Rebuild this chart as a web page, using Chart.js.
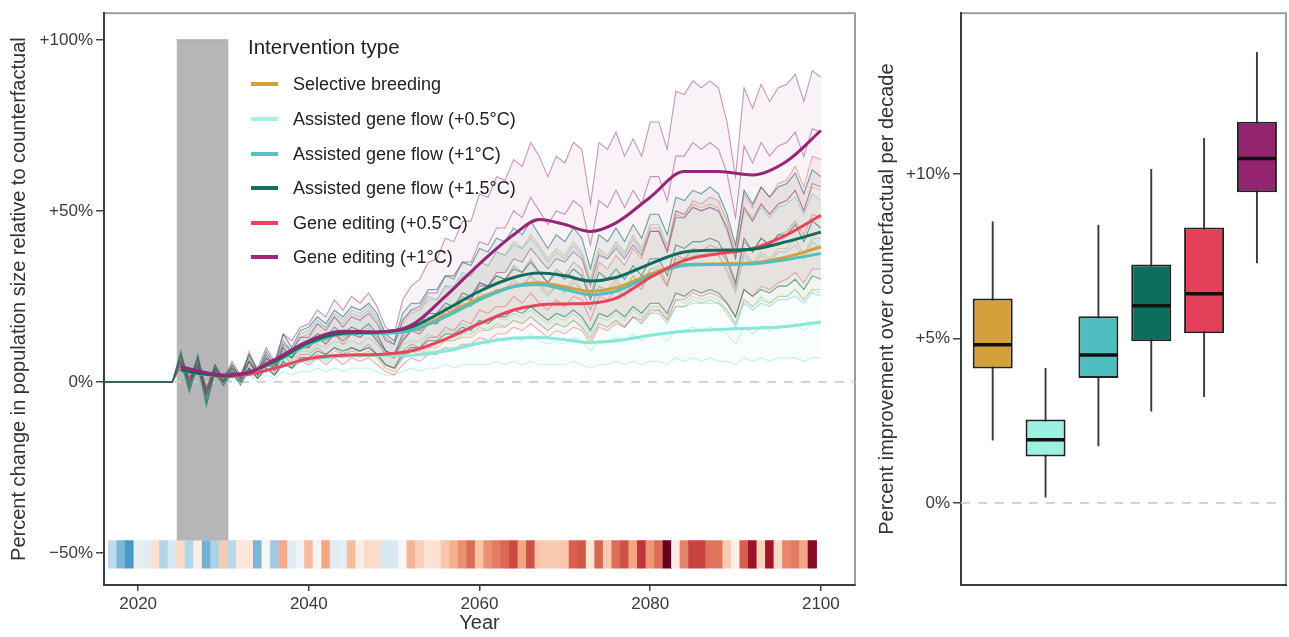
<!DOCTYPE html>
<html>
<head>
<meta charset="utf-8">
<title>Intervention outcomes</title>
<script src="https://cdn.jsdelivr.net/npm/chart.js@4.4.1/dist/chart.umd.min.js"></script>
<style>
  body { margin: 0; background: #fff; font-family: "Liberation Sans", Arial, sans-serif; }
  #wrap { position: relative; width: 1289px; height: 637px; overflow: hidden; }
  #left { position: absolute; left: 0; top: 0; }
  #right { position: absolute; left: 860px; top: 0; }
  #legend { position: absolute; left: 0; top: 0; color: #222; }
  .leg-title { position: absolute; left: 248px; top: 35px; font-size: 20.5px; white-space: nowrap; }
  .leg-item { position: absolute; left: 251px; height: 20px; line-height: 20px; font-size: 18px; white-space: nowrap; }
  .leg-key { position: absolute; left: 0; top: 8px; width: 27px; height: 4px; }
  .leg-text { position: absolute; left: 42px; top: 0; }
</style>
</head>
<body>
<div id="wrap">
  <canvas id="left" width="870" height="637"></canvas>
  <canvas id="right" width="429" height="637"></canvas>
  <div id="legend"></div>
</div>
<script>
// --- DADOS ---
const seriesNames = [
  'Selective breeding',
  'Assisted gene flow (+0.5°C)',
  'Assisted gene flow (+1°C)',
  'Assisted gene flow (+1.5°C)',
  'Gene editing (+0.5°C)',
  'Gene editing (+1°C)'
];

// smooth mean trends (knots)
const knotYears = [2025, 2027, 2030, 2033, 2036, 2040, 2044, 2048, 2052, 2056, 2060,
                   2064, 2067, 2070, 2073, 2076, 2080, 2084, 2088, 2092, 2096, 2100];
const meanSB    = [3.5, 2.5, 1.8, 2.8, 5.8, 11, 14, 14.3, 15.2, 19.5, 24.5, 28, 29, 27.8, 26.5, 27.5, 31.5, 34.3, 34.5, 34.8, 36.5, 39.5];
const meanAGF05 = [3.5, 2.5, 1.5, 2.2, 4, 6.5, 7.5, 7.7, 7.8, 9, 11.3, 12.8, 13, 12.3, 11.5, 12, 13.6, 14.8, 15.3, 15.7, 16.2, 17.5];
const meanAGF1  = [3.5, 2.5, 1.8, 2.8, 5.8, 11, 14, 14.2, 15, 19, 24, 27.8, 28.5, 27, 25.5, 26.5, 31, 34, 34.3, 34.5, 35.8, 37.5];
const meanAGF15 = [3.5, 2.5, 1.8, 2.8, 6, 11.5, 14.2, 14.5, 16, 21, 26.5, 30.5, 31.8, 31, 29.5, 30.5, 34.5, 38, 38.5, 38.8, 41, 43.8];
const meanGE05  = [4, 3, 1.5, 2.2, 4, 6.8, 7.8, 8, 9, 12.5, 17, 21, 22.5, 22.8, 23, 24.5, 30.5, 35.5, 37.5, 39, 43, 48.7];
const meanGE1   = [4.5, 3.2, 2.0, 2.8, 6.5, 12, 14.8, 14.6, 16.5, 25, 34.5, 43, 47.5, 46, 44, 46.5, 54, 61.5, 61.5, 60.5, 64.5, 73.5];

// individual runs (yearly): 2016, 2024, 2025 ... 2100
const runYears = [2016, 2024, 2025, 2026, 2027, 2028, 2029,
  2030, 2031, 2032, 2033, 2034, 2035, 2036, 2037, 2038, 2039,
  2040, 2041, 2042, 2043, 2044, 2045, 2046, 2047, 2048, 2049,
  2050, 2051, 2052, 2053, 2054, 2055, 2056, 2057, 2058, 2059,
  2060, 2061, 2062, 2063, 2064, 2065, 2066, 2067, 2068, 2069,
  2070, 2071, 2072, 2073, 2074, 2075, 2076, 2077, 2078, 2079,
  2080, 2081, 2082, 2083, 2084, 2085, 2086, 2087, 2088, 2089,
  2090, 2091, 2092, 2093, 2094, 2095, 2096, 2097, 2098, 2099,
  2100];

const runSBHigh = [0, 0, 7, 1, 6, -2, 4,
  1, 5, 2, 7, 3, 8, 5, 12, 9, 13,
  14, 17, 16, 19, 17, 20, 19, 21, 18, 13,
  11, 17, 20, 21, 24, 24, 28, 27, 31, 31,
  35, 34, 38, 37, 41, 39, 43, 40, 36, 39,
  37, 41, 38, 30, 39, 37, 41, 38, 43, 39,
  46, 46, 40, 50, 49, 52, 51, 52, 51, 45,
  37, 51, 48, 52, 49, 52, 53, 56, 50, 57,
  56];
const runSBMid = [0, 0, 6, 0, 5, -3, 3,
  1, 4, 1, 5, 2, 6, 4, 9, 7, 10,
  10, 13, 12, 14, 12, 15, 14, 15, 13, 9,
  7, 12, 15, 15, 17, 17, 20, 20, 22, 22,
  25, 25, 27, 27, 30, 28, 31, 29, 26, 28,
  27, 30, 27, 21, 28, 27, 30, 27, 31, 28,
  33, 34, 29, 36, 36, 38, 37, 38, 37, 33,
  27, 38, 35, 38, 36, 39, 39, 42, 37, 42,
  42];
const runSBLow = [0, 0, 4, -1, 3, -4, 2,
  0, 2, 0, 3, 1, 4, 2, 5, 4, 6,
  6, 8, 7, 8, 7, 9, 8, 9, 7, 4,
  3, 7, 9, 8, 10, 10, 12, 12, 13, 13,
  15, 15, 16, 16, 18, 17, 19, 17, 15, 17,
  16, 18, 16, 12, 17, 16, 18, 16, 19, 17,
  20, 21, 18, 22, 22, 24, 23, 24, 23, 21,
  17, 24, 22, 24, 23, 25, 25, 27, 24, 27,
  27];
const runAGF05High = [0, 0, 6, 0, 5, -3, 3,
  0, 4, 1, 6, 2, 6, 3, 8, 6, 9,
  9, 11, 10, 12, 11, 12, 11, 13, 11, 8,
  7, 11, 12, 12, 14, 13, 15, 15, 17, 16,
  18, 17, 19, 18, 20, 19, 21, 19, 17, 19,
  18, 20, 18, 14, 19, 18, 20, 18, 21, 19,
  22, 22, 19, 24, 23, 25, 24, 25, 24, 21,
  17, 24, 22, 25, 23, 25, 25, 27, 24, 27,
  26];
const runAGF05Mid = [0, 0, 5, -1, 3, -3, 2,
  0, 3, 0, 4, 1, 4, 2, 6, 4, 6,
  6, 8, 6, 8, 7, 8, 7, 9, 7, 5,
  4, 7, 8, 8, 9, 9, 10, 10, 11, 11,
  12, 11, 13, 12, 13, 12, 14, 12, 11, 12,
  11, 13, 12, 9, 12, 12, 13, 12, 14, 12,
  14, 14, 12, 15, 15, 16, 15, 16, 15, 14,
  11, 16, 14, 16, 15, 16, 16, 17, 15, 17,
  17];
const runAGF05Low = [0, 0, 3, -1, 2, -3, 1,
  -1, 1, 0, 2, 0, 2, 1, 3, 2, 3,
  3, 4, 3, 4, 3, 4, 4, 4, 3, 2,
  2, 3, 4, 3, 4, 4, 5, 4, 5, 5,
  5, 5, 6, 5, 6, 5, 6, 5, 5, 5,
  5, 6, 5, 4, 5, 5, 6, 5, 6, 5,
  6, 6, 5, 7, 6, 7, 6, 7, 6, 6,
  5, 7, 6, 7, 6, 7, 7, 7, 6, 7,
  7];
const runAGF1High = [0, 0, 8, 0, 7, -3, 4,
  1, 5, 1, 7, 3, 8, 5, 12, 9, 14,
  15, 18, 16, 20, 18, 21, 20, 22, 19, 13,
  11, 18, 21, 21, 25, 24, 28, 28, 32, 31,
  35, 34, 38, 37, 40, 39, 42, 39, 35, 38,
  36, 40, 37, 29, 38, 36, 40, 37, 42, 38,
  45, 45, 39, 49, 48, 51, 50, 51, 50, 44,
  36, 50, 47, 51, 48, 51, 52, 54, 49, 55,
  53];
const runAGF1Mid = [0, 0, 7, -1, 6, -4, 3,
  1, 4, 1, 6, 2, 6, 4, 9, 7, 10,
  11, 13, 12, 14, 13, 15, 14, 16, 13, 9,
  8, 12, 15, 15, 18, 17, 20, 20, 23, 22,
  26, 25, 27, 27, 29, 28, 31, 28, 25, 28,
  26, 29, 27, 21, 28, 26, 29, 27, 31, 28,
  33, 33, 28, 36, 35, 37, 37, 37, 37, 32,
  26, 37, 34, 37, 35, 38, 38, 40, 36, 41,
  39];
const runAGF1Low = [0, 0, 5, -2, 4, -5, 2,
  0, 3, 0, 4, 1, 4, 2, 6, 4, 7,
  7, 8, 7, 9, 8, 9, 9, 10, 8, 5,
  4, 7, 9, 9, 11, 11, 12, 12, 14, 14,
  16, 15, 17, 16, 18, 17, 19, 17, 15, 17,
  16, 18, 16, 13, 17, 16, 18, 16, 19, 17,
  20, 20, 17, 22, 22, 23, 23, 23, 23, 20,
  16, 23, 21, 23, 22, 24, 24, 25, 23, 26,
  25];
const runAGF15High = [0, 0, 9, -1, 8, -4, 5,
  0, 5, 1, 8, 3, 9, 5, 14, 10, 15,
  16, 19, 17, 21, 19, 22, 21, 23, 20, 14,
  12, 20, 23, 23, 27, 27, 31, 31, 35, 34,
  39, 38, 42, 41, 45, 43, 47, 43, 39, 43,
  41, 45, 42, 33, 43, 41, 45, 41, 46, 42,
  49, 49, 43, 54, 53, 56, 55, 57, 55, 49,
  40, 56, 52, 57, 54, 57, 58, 61, 55, 62,
  60];
const runAGF15Mid = [0, 0, 8, -2, 7, -6, 4,
  0, 4, 0, 6, 2, 7, 4, 10, 7, 11,
  12, 14, 13, 16, 14, 16, 15, 17, 14, 9,
  8, 14, 17, 17, 20, 20, 23, 22, 26, 25,
  29, 28, 31, 30, 33, 32, 35, 32, 29, 32,
  30, 33, 31, 24, 32, 30, 33, 30, 34, 31,
  36, 36, 31, 40, 39, 41, 41, 42, 41, 36,
  29, 42, 38, 42, 40, 43, 43, 46, 41, 47,
  45];
const runAGF15Low = [0, 0, 6, -3, 5, -7, 3,
  -1, 3, -1, 4, 1, 4, 2, 6, 4, 7,
  7, 9, 8, 10, 9, 10, 9, 10, 8, 5,
  4, 8, 10, 10, 12, 12, 14, 14, 16, 15,
  18, 17, 19, 19, 21, 20, 22, 20, 18, 20,
  19, 21, 19, 15, 20, 19, 21, 19, 22, 20,
  23, 23, 20, 26, 25, 27, 26, 27, 26, 23,
  19, 27, 25, 27, 26, 28, 28, 30, 27, 31,
  30];
const runGE05High = [0, 0, 7, 1, 6, -3, 4,
  0, 5, 1, 9, 3, 8, 4, 10, 7, 11,
  10, 13, 11, 14, 11, 14, 13, 15, 12, 8,
  7, 13, 16, 15, 19, 18, 22, 21, 25, 24,
  29, 28, 31, 30, 34, 32, 36, 32, 29, 33,
  31, 35, 33, 25, 35, 33, 37, 34, 39, 36,
  44, 44, 38, 50, 49, 53, 52, 54, 53, 47,
  38, 55, 51, 57, 54, 58, 59, 63, 57, 66,
  65];
const runGE05Mid = [0, 0, 6, 0, 5, -3, 3,
  0, 3, 1, 6, 2, 6, 3, 8, 5, 8,
  8, 10, 8, 10, 8, 10, 9, 11, 8, 5,
  4, 9, 11, 10, 13, 13, 16, 15, 18, 17,
  21, 20, 22, 22, 25, 23, 26, 23, 21, 24,
  22, 25, 24, 18, 25, 24, 27, 25, 29, 27,
  32, 32, 28, 37, 36, 39, 38, 40, 39, 35,
  28, 41, 38, 42, 40, 43, 44, 47, 43, 49,
  48];
const runGE05Low = [0, 0, 4, 0, 3, -4, 2,
  -1, 2, 0, 4, 1, 4, 2, 5, 4, 6,
  5, 7, 5, 7, 5, 7, 6, 7, 5, 3,
  2, 5, 7, 6, 8, 8, 10, 9, 11, 11,
  13, 12, 14, 14, 16, 15, 17, 15, 13, 15,
  14, 16, 15, 11, 16, 15, 17, 16, 19, 18,
  21, 21, 18, 24, 24, 26, 25, 26, 25, 23,
  19, 27, 25, 28, 27, 29, 30, 32, 29, 33,
  33];
const runGE1High = [0, 0, 8, 1, 7, -2, 5,
  1, 6, 2, 8, 4, 10, 6, 14, 12, 16,
  17, 21, 19, 24, 21, 25, 23, 26, 22, 16,
  14, 24, 28, 30, 35, 36, 42, 41, 47, 47,
  55, 54, 60, 59, 65, 63, 70, 66, 60, 66,
  64, 70, 68, 52, 70, 68, 73, 66, 71, 66,
  76, 76, 68, 85, 84, 88, 86, 88, 86, 76,
  60, 86, 80, 87, 82, 86, 87, 90, 82, 91,
  89];
const runGE1Mid = [0, 0, 6, 1, 5, -2, 4,
  1, 4, 2, 6, 3, 7, 5, 11, 9, 13,
  13, 17, 15, 19, 16, 19, 18, 20, 17, 12,
  11, 18, 21, 22, 26, 26, 31, 30, 35, 35,
  41, 40, 45, 45, 50, 48, 54, 50, 46, 50,
  49, 53, 51, 40, 53, 51, 56, 51, 56, 52,
  60, 60, 53, 66, 66, 70, 68, 70, 68, 61,
  48, 69, 64, 70, 66, 69, 70, 73, 66, 74,
  73];
const runGE1Low = [0, 0, 5, 0, 4, -3, 3,
  0, 3, 1, 4, 2, 5, 4, 8, 7, 10,
  10, 13, 11, 14, 12, 14, 13, 15, 12, 9,
  8, 12, 15, 14, 17, 17, 21, 20, 24, 24,
  28, 28, 32, 32, 36, 35, 39, 36, 33, 36,
  35, 38, 36, 28, 37, 36, 39, 36, 40, 37,
  44, 44, 38, 48, 48, 51, 50, 51, 50, 45,
  36, 51, 47, 52, 49, 52, 53, 56, 50, 58,
  57];

// climate anomaly strip, one cell per year (2017-2099)
const stripYears = [2017, 2018, 2019,
  2020, 2021, 2022, 2023, 2024, 2025, 2026, 2027, 2028, 2029,
  2030, 2031, 2032, 2033, 2034, 2035, 2036, 2037, 2038, 2039,
  2040, 2041, 2042, 2043, 2044, 2045, 2046, 2047, 2048, 2049,
  2050, 2051, 2052, 2053, 2054, 2055, 2056, 2057, 2058, 2059,
  2060, 2061, 2062, 2063, 2064, 2065, 2066, 2067, 2068, 2069,
  2070, 2071, 2072, 2073, 2074, 2075, 2076, 2077, 2078, 2079,
  2080, 2081, 2082, 2083, 2084, 2085, 2086, 2087, 2088, 2089,
  2090, 2091, 2092, 2093, 2094, 2095, 2096, 2097, 2098, 2099];
const stripAnomaly = [-1.3, -2.3, -2.9,
  -0.5, -0.6, 0.8, -1.5, -0.8, 1.0, -1.5, 0.3, -2.4, -1.6,
  1.3, -1.4, 0.6, 0.6, -2.3, -0.1, -1.8, 1.9, -0.6, -0.2,
  1.6, 0.1, 2.0, -0.6, -0.5, 1.6, 0.3, 1.0, 0.9, -0.9,
  -0.8, 0.1, 1.7, 1.2, 0.7, 0.8, 1.4, 1.8, 2.3, 2.8,
  1.4, 2.3, 2.6, 2.9, 3.3, 2.0, 3.2, 1.4, 1.3, 1.3,
  1.4, 3.0, 3.1, 0.7, 2.9, 1.3, 2.8, 3.2, 2.0, 3.6,
  2.2, 2.8, 5.0, 0.4, 2.5, 3.4, 3.4, 2.7, 2.7, 1.3,
  0.3, 3.0, 4.3, 1.2, 4.2, 1.0, 2.4, 2.6, 2.0, 4.6];

const interventionYears = [2024.5, 2030.6];

// box plot (percent improvement per decade)
const boxMin    = [1.90, 0.16, 1.72, 2.78, 3.22, 7.29];
const boxQ1     = [4.09, 1.41, 3.80, 4.92, 5.16, 9.45];
const boxMedian = [4.81, 1.92, 4.50, 6.00, 6.36, 10.48];
const boxQ3     = [6.22, 2.54, 5.68, 7.25, 8.38, 11.60];
const boxMax    = [8.56, 4.10, 8.46, 10.16, 11.10, 13.72];

// eixos
const leftYTicks = [-50, 0, 50, 100];
const leftYLabels = ['\u221250%', '0%', '+50%', '+100%'];
const leftXTicks = [2020, 2040, 2060, 2080, 2100];
const rightYTicks = [0, 5, 10];
const rightYLabels = ['0%', '+5%', '+10%'];

// --- ESTILO ---
const seriesRGB = [[212, 160, 58], [134, 232, 214], [79, 192, 193], [15, 109, 94], [232, 69, 91], [152, 37, 120]];
const legendColors = ['#d4a03a', '#a6f0e3', '#55c3c4', '#11705f', '#e8465c', '#9b2779'];
const boxColors = ['#d4a03a', '#9ef0e1', '#4dbdc0', '#0d6e60', '#e3405a', '#932470'];
const rgba = (c, a) => `rgba(${c[0]},${c[1]},${c[2]},${a})`;

const stripStops = [-3, -2, -1, 0, 1, 2, 3, 4, 5];
const stripPalette = ['#4393c3', '#92c5de', '#d1e5f0', '#f7f7f7', '#fddbc7', '#f4a582', '#d6604d', '#b2182b', '#67001f'];
function hexRgb(h) {
  return [parseInt(h.slice(1, 3), 16), parseInt(h.slice(3, 5), 16), parseInt(h.slice(5, 7), 16)];
}
function rampColor(v) {
  const t = Math.max(stripStops[0], Math.min(stripStops[stripStops.length - 1], v));
  let i = 0;
  while (i < stripStops.length - 2 && t > stripStops[i + 1]) i++;
  const f = (t - stripStops[i]) / (stripStops[i + 1] - stripStops[i]);
  const a = hexRgb(stripPalette[i]), b = hexRgb(stripPalette[i + 1]);
  return `rgb(${Math.round(a[0] + (b[0] - a[0]) * f)},${Math.round(a[1] + (b[1] - a[1]) * f)},${Math.round(a[2] + (b[2] - a[2]) * f)})`;
}

Chart.defaults.font.family = '"Liberation Sans", Arial, sans-serif';
Chart.defaults.color = '#333';
Chart.defaults.animation = false;

// moldura cinza clara (topo / direita)
const framePlugin = {
  id: 'frame',
  beforeDraw(chart) {
    const { ctx, chartArea: a } = chart;
    ctx.save();
    ctx.strokeStyle = '#9c9c9c';
    ctx.lineWidth = 2;
    ctx.strokeRect(a.left, a.top, a.right - a.left, a.bottom - a.top);
    ctx.restore();
  }
};

// --- PAINEL ESQUERDO ---
const xMin = 2016, xMax = 2104;
const pts = (xs, ys) => xs.map((x, i) => ({ x, y: ys[i] }));
const leftDatasets = [];

const means = [meanSB, meanAGF05, meanAGF1, meanAGF15, meanGE05, meanGE1];
const meanOrder = [4, 5, 3, 1, 2, 0];
means.forEach((m, k) => {
  leftDatasets.push({
    type: 'line', label: seriesNames[k], data: pts(knotYears, m),
    borderColor: rgba(seriesRGB[k], 1), borderWidth: 3,
    cubicInterpolationMode: 'monotone', pointRadius: 0, fill: false, order: meanOrder[k]
  });
});

const runGroups = [
  [0, [runSBHigh, runSBMid, runSBLow]],
  [1, [runAGF05High, runAGF05Mid, runAGF05Low]],
  [2, [runAGF1High, runAGF1Mid, runAGF1Low]],
  [3, [runAGF15High, runAGF15Mid, runAGF15Low]],
  [4, [runGE05High, runGE05Mid, runGE05Low]],
  [5, [runGE1High, runGE1Mid, runGE1Low]]
];
const runOrder = [24, 25, 23, 20, 22, 21];
const runAlpha = [0.42, 0.5, 0.42, 0.6, 0.42, 0.48];
runGroups.forEach(([k, runs]) => {
  runs.forEach((r, j) => {
    leftDatasets.push({
      type: 'line', data: pts(runYears, r),
      borderColor: rgba(seriesRGB[k], runAlpha[k]), borderWidth: 1.1,
      pointRadius: 0,
      fill: j === 0 ? '+' + (runs.length - 1) : false,
      backgroundColor: rgba(seriesRGB[k], 0.06),
      order: runOrder[k]
    });
  });
});

leftDatasets.push({
  type: 'line', data: [{ x: xMin, y: 0 }, { x: xMax, y: 0 }],
  borderColor: '#cdcdcd', borderWidth: 1.6, borderDash: [9, 8], pointRadius: 0, fill: false, order: 80
});

// faixa do período de intervenção
leftDatasets.push({
  type: 'line', data: [{ x: interventionYears[0], y: 100 }, { x: interventionYears[1], y: 100 }],
  borderColor: '#a3a3a3', borderWidth: 1, pointRadius: 0, fill: '+1', backgroundColor: '#b6b6b6', order: 90
});
leftDatasets.push({
  type: 'line', data: [{ x: interventionYears[0], y: -46.4 }, { x: interventionYears[1], y: -46.4 }],
  borderWidth: 0, pointRadius: 0, fill: false, order: 91
});

leftDatasets.push({
  type: 'bar', data: stripYears.map(x => ({ x, y: [-54.5, -46.4] })),
  backgroundColor: stripAnomaly.map(rampColor), borderWidth: 0,
  barPercentage: 1, categoryPercentage: 1, grouped: false, order: 100
});

new Chart(document.getElementById('left'), {
  type: 'line',
  data: { datasets: leftDatasets },
  plugins: [framePlugin],
  options: {
    responsive: false,
    animation: false,
    layout: { autoPadding: false, padding: { top: 13, right: 15, bottom: 0, left: 0 } },
    plugins: { legend: { display: false }, tooltip: { enabled: false } },
    elements: { point: { radius: 0 } },
    scales: {
      x: {
        type: 'linear', min: xMin, max: xMax, offset: false,
        afterBuildTicks: a => { a.ticks = leftXTicks.map(v => ({ value: v })); },
        afterFit: a => { a.height = 52; },
        ticks: { font: { size: 17 }, color: '#3a3a3a', padding: 3, maxRotation: 0, callback: v => String(v) },
        grid: { offset: false, drawOnChartArea: false, drawTicks: true, tickLength: 6, color: '#444', lineWidth: 1.5 },
        border: { display: true, color: '#3d3d3d', width: 2 },
        title: { display: true, text: 'Year', font: { size: 20 }, color: '#333', padding: { top: 0, bottom: 1.5 } }
      },
      y: {
        type: 'linear', min: -59.4, max: 107.8,
        afterBuildTicks: a => { a.ticks = leftYTicks.map(v => ({ value: v })); },
        afterFit: a => { a.width = 104; },
        ticks: { font: { size: 17 }, color: '#3a3a3a', padding: 3, callback: v => leftYLabels[leftYTicks.indexOf(v)] },
        grid: { drawOnChartArea: false, drawTicks: true, tickLength: 8, color: '#444', lineWidth: 1.5 },
        border: { display: true, color: '#3d3d3d', width: 2 },
        title: { display: true, text: 'Percent change in population size relative to counterfactual', font: { size: 20 }, color: '#333', padding: { top: 7, bottom: 0 } }
      }
    }
  }
});

// legenda
const legend = document.getElementById('legend');
const title = document.createElement('div');
title.className = 'leg-title';
title.textContent = 'Intervention type';
legend.appendChild(title);
seriesNames.forEach((name, k) => {
  const item = document.createElement('div');
  item.className = 'leg-item';
  item.style.top = (84.3 + 34.6 * k - 10) + 'px';
  item.innerHTML = `<span class="leg-key" style="background:${legendColors[k]}"></span><span class="leg-text">${name}</span>`;
  legend.appendChild(item);
});

// --- PAINEL DIREITO (BOXPLOT) ---
const boxXMin = -0.6, boxXMax = 5.55;
const boxX = seriesNames.map((_, i) => i);

new Chart(document.getElementById('right'), {
  type: 'bar',
  data: {
    datasets: [
      {
        type: 'line', data: [{ x: boxXMin, y: 0 }, { x: boxXMax, y: 0 }],
        borderColor: '#cdcdcd', borderWidth: 1.6, borderDash: [9, 8], pointRadius: 0, fill: false, order: 10
      },
      {
        type: 'bar', data: boxX.map(i => ({ x: i, y: [boxMin[i], boxMax[i]] })),
        backgroundColor: '#3a3a3a', borderWidth: 0, barPercentage: 0.036, categoryPercentage: 1,
        grouped: false, order: 3
      },
      {
        type: 'bar', data: boxX.map(i => ({ x: i, y: [boxQ1[i], boxQ3[i]] })),
        backgroundColor: boxColors, borderColor: '#222', borderWidth: 2, borderSkipped: false,
        barPercentage: 0.757, categoryPercentage: 1, grouped: false, order: 2
      },
      {
        type: 'line', data: boxX.map(i => ({ x: i, y: boxMedian[i] })),
        showLine: false, pointStyle: 'line', pointRadius: 19, pointBorderWidth: 3.5,
        pointBorderColor: '#111', order: 1
      }
    ]
  },
  plugins: [framePlugin],
  options: {
    responsive: false,
    animation: false,
    layout: { autoPadding: false, padding: { top: 13, right: 3, bottom: 0, left: 0 } },
    plugins: { legend: { display: false }, tooltip: { enabled: false } },
    scales: {
      x: {
        type: 'linear', min: boxXMin, max: boxXMax, offset: false,
        afterBuildTicks: a => { a.ticks = boxX.map(v => ({ value: v })); },
        afterFit: a => { a.height = 52; },
        ticks: { display: false },
        grid: { display: false, offset: false },
        border: { display: true, color: '#3d3d3d', width: 2 }
      },
      y: {
        type: 'linear', min: -2.5, max: 14.9, beginAtZero: false,
        afterBuildTicks: a => { a.ticks = rightYTicks.map(v => ({ value: v })); },
        afterFit: a => { a.width = 101; },
        ticks: { font: { size: 17 }, color: '#3a3a3a', padding: 3, callback: v => rightYLabels[rightYTicks.indexOf(v)] },
        grid: { drawOnChartArea: false, drawTicks: true, tickLength: 8, color: '#444', lineWidth: 1.5 },
        border: { display: true, color: '#3d3d3d', width: 2 },
        title: { display: true, text: 'Percent improvement over counterfactual per decade', font: { size: 20 }, color: '#333', padding: { top: 15, bottom: 0 } }
      }
    }
  }
});
</script>
</body>
</html>
